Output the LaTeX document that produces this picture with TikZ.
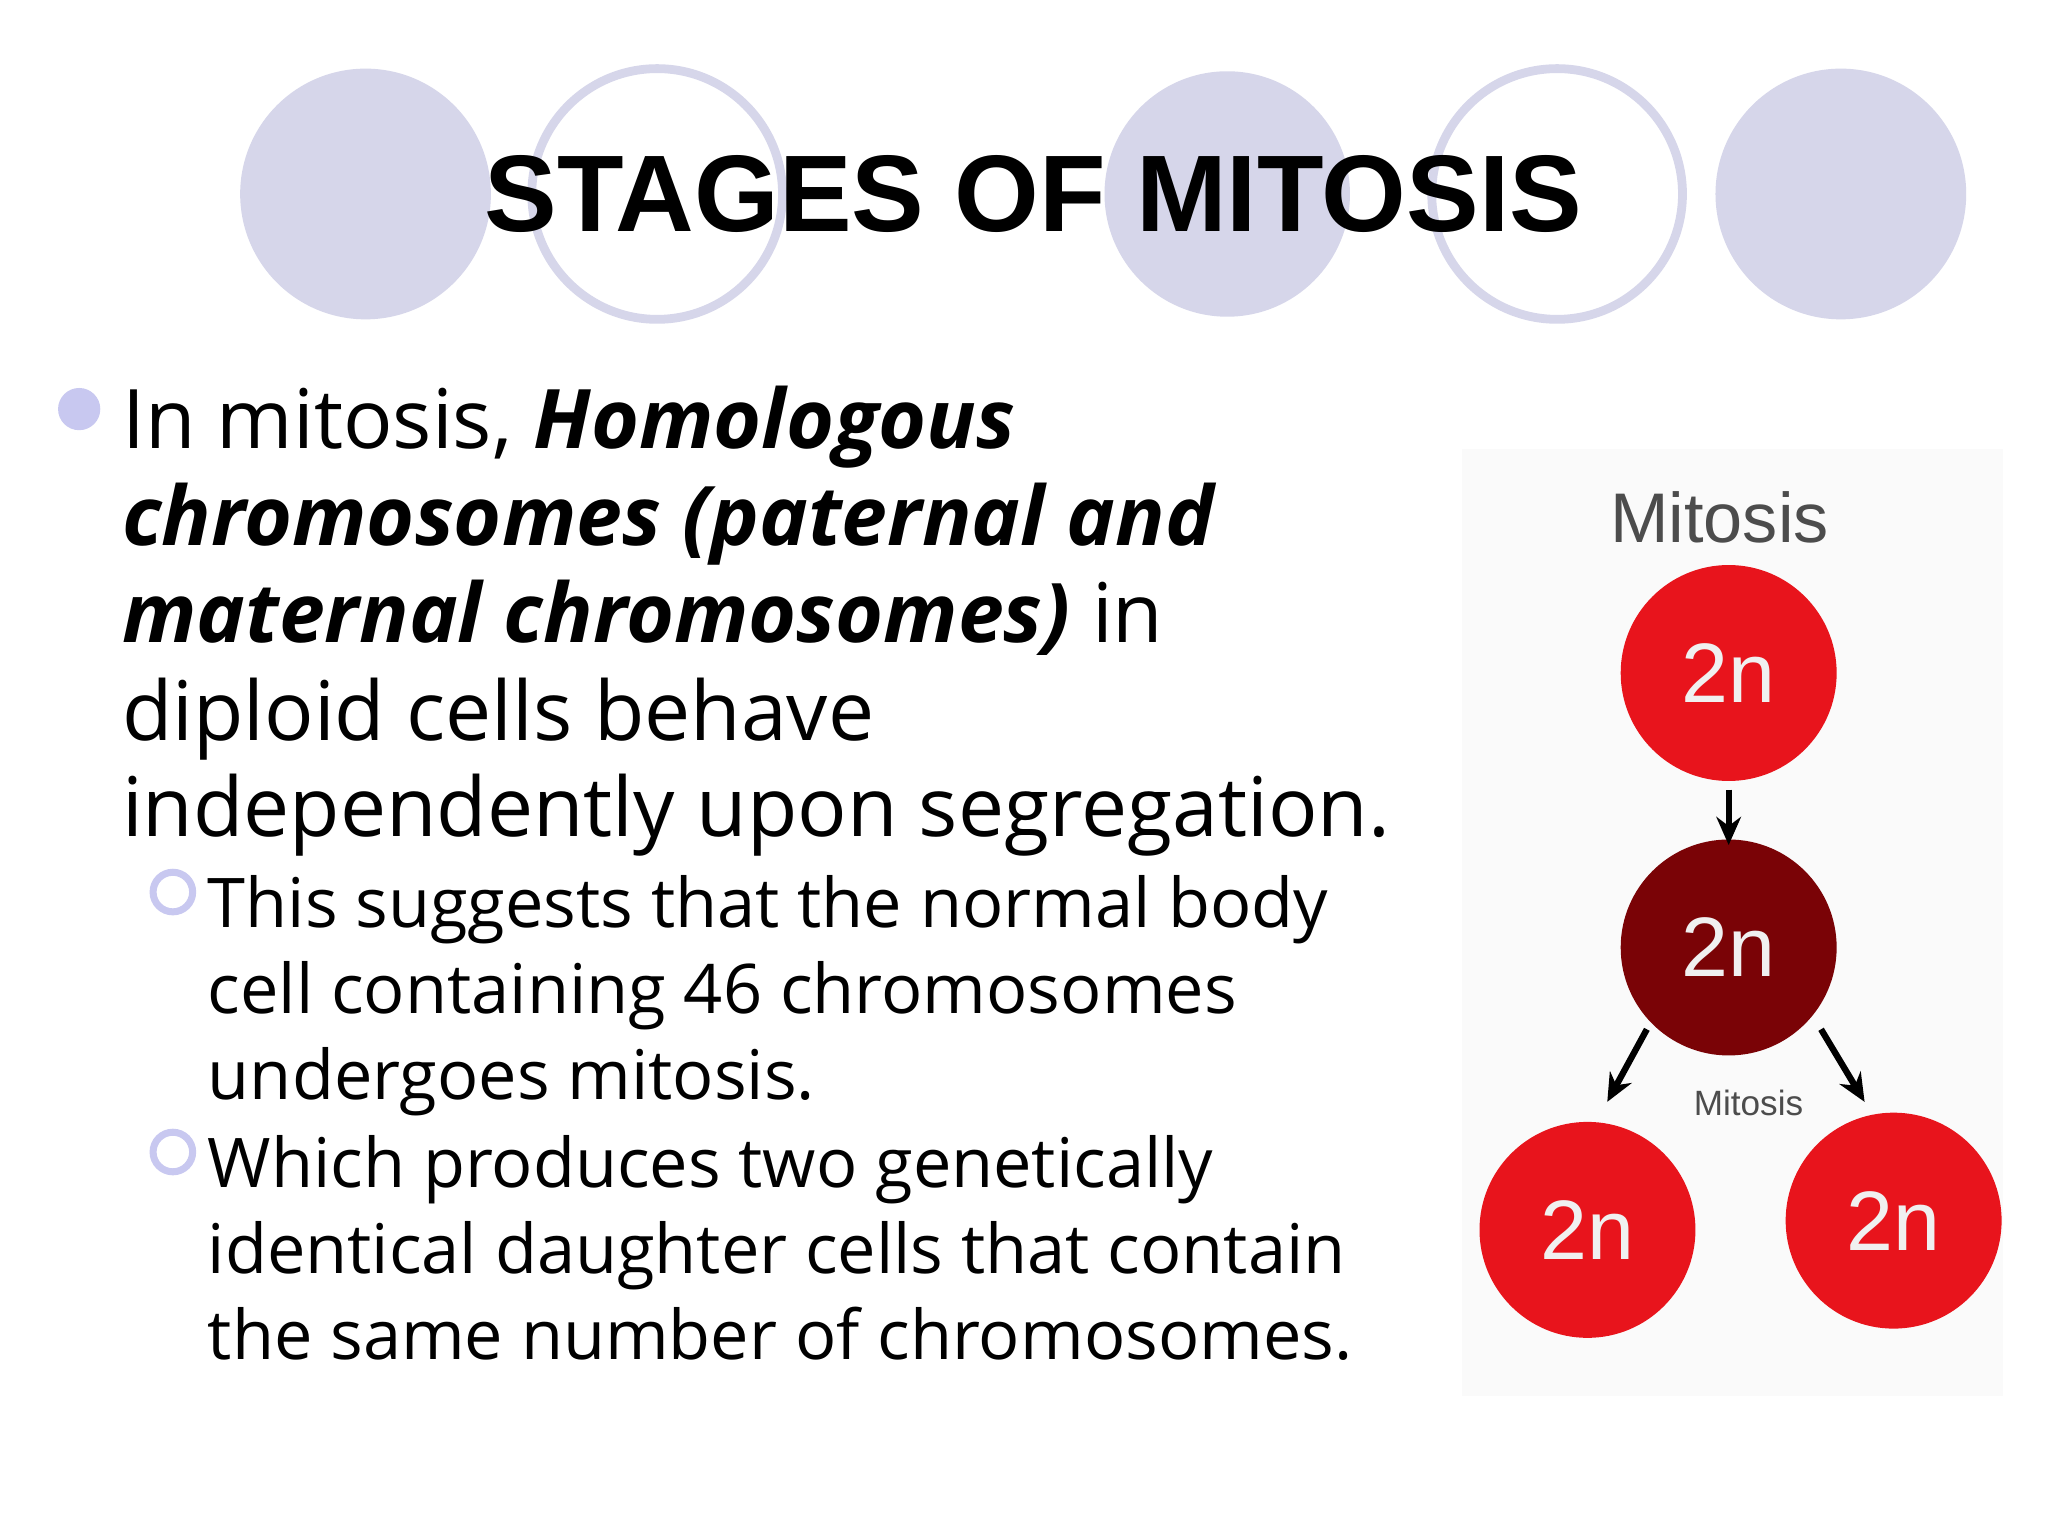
\documentclass[tikz,border=0pt]{standalone}
\usepackage{fontspec}
\setmainfont{Open Sans}
\newfontfamily\titlefont{Liberation Sans}
\usetikzlibrary{arrows.meta}
\definecolor{lav}{HTML}{D6D6EA}
\definecolor{bul}{HTML}{C8C8F0}
\definecolor{cellred}{HTML}{E8141C}
\definecolor{celldark}{HTML}{7A0306}
\tikzset{
  filled/.style={fill=lav,draw=none},
  ring/.style={draw=lav,line width=2.5pt},
  line1/.style={anchor=base west,inner sep=0,font=\fontsize{23.4}{28}\selectfont},
  line2/.style={anchor=base west,inner sep=0,font=\fontsize{19.5}{24}\selectfont},
  cell/.style={circle,minimum size=2.16cm,inner sep=0,text=white!88!gray,font=\titlefont\fontsize{24}{28}\selectfont},
  arr/.style={-{Stealth[length=8pt,width=7pt]},line width=1.8pt}
}
\begin{document}
\begin{tikzpicture}[x=0.0132cm,y=-0.0132cm]
\useasboundingbox (0,0) rectangle (1552,1164);
\fill[white] (0,0) rectangle (1552,1164);
\fill[filled] (277,147) circle (95);
\draw[ring] (498,147) circle (95);
\fill[filled] (930,147) circle (93);
\draw[ring] (1180,147) circle (95);
\fill[filled] (1395,147) circle (95);
\node[font=\titlefont\bfseries\fontsize{31}{36}\selectfont] (title) at (783,147) {STAGES OF MITOSIS};
\fill[bul] (60,310) circle (16);
\draw[bul,line width=2pt] (131,676) circle (15);
\draw[bul,line width=2pt] (131,873) circle (15);
\node[line1] (l1) at (92,340) {In mitosis, \textbf{\textit{Homologous}}};
\node[line1] (l2) at (92,413) {\textbf{\textit{chromosomes (paternal and}}};
\node[line1] (l3) at (92,487) {\textbf{\textit{maternal chromosomes)}} in};
\node[line1] (l4) at (92,561) {diploid cells behave};
\node[line1] (l5) at (92,634) {independently upon segregation.};
\node[line2] (s1) at (157,703) {This suggests that the normal body};
\node[line2] (s2) at (157,768) {cell containing 46 chromosomes};
\node[line2] (s3) at (157,833) {undergoes mitosis.};
\node[line2] (s4) at (157,900) {Which produces two genetically};
\node[line2] (s5) at (157,965) {identical daughter cells that contain};
\node[line2] (s6) at (157,1030) {the same number of chromosomes.};
\fill[gray!4] (1108,340) rectangle (1518,1058);
\node[text=black!70,font=\titlefont\fontsize{20}{24}\selectfont] (mt) at (1303,392) {Mitosis};
\node[cell,fill=cellred] (c1) at (1310,510) {2n};
\node[cell,fill=celldark] (c2) at (1310,718) {2n};
\node[cell,fill=cellred] (c3) at (1203,932) {2n};
\node[cell,fill=cellred] (c4) at (1435,925) {2n};
\draw[arr] (c1.south) ++(0,6) -- ++(0,42);
\draw[arr] (1248,780) -- (1218,835);
\draw[arr] (1380,780) -- (1413,835);
\node[text=black!70,font=\titlefont\fontsize{10}{12}\selectfont] (mt2) at (1325,836) {Mitosis};
\end{tikzpicture}
\end{document}
